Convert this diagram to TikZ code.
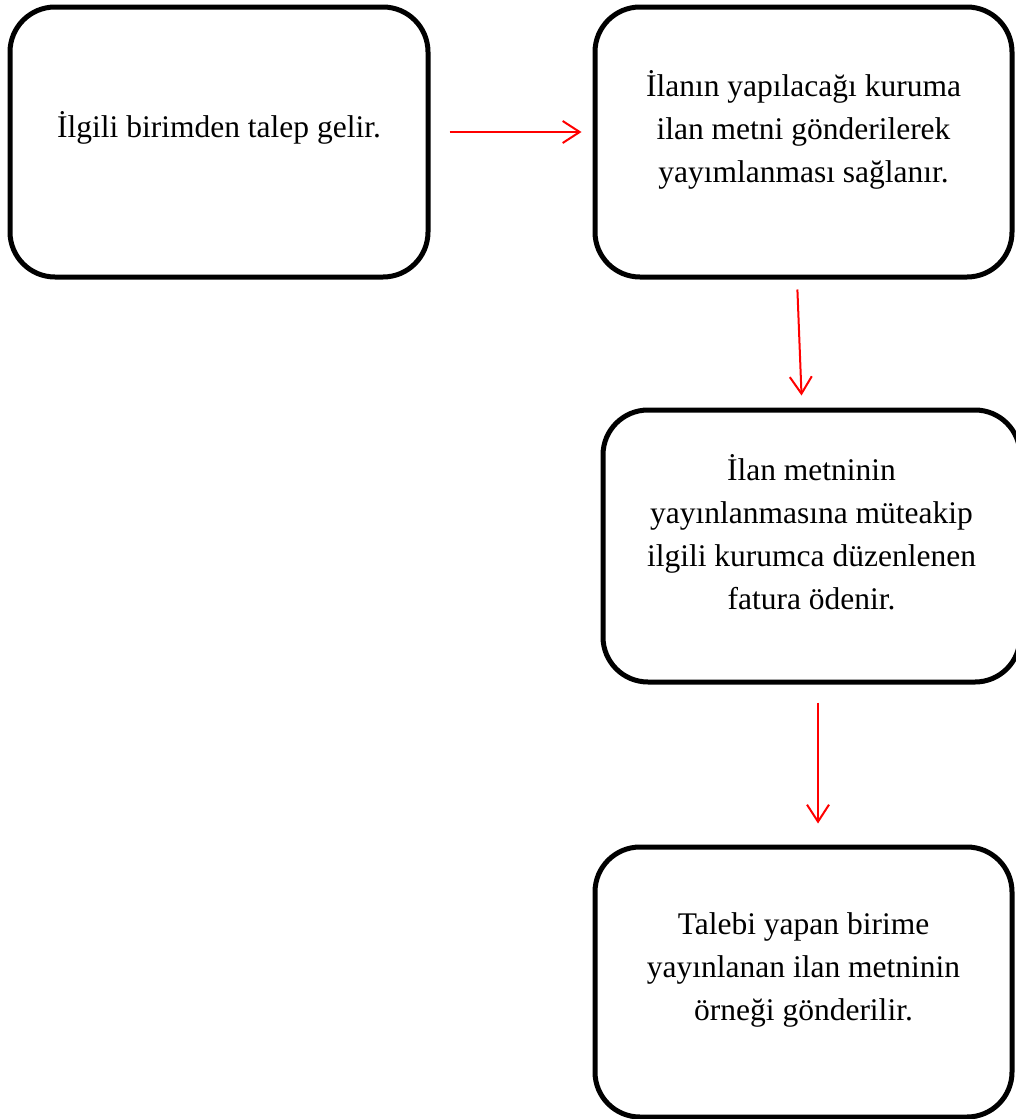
\documentclass[tikz,border=0pt]{standalone}
\usepackage{fontspec}
\setmainfont{Liberation Serif}
\usetikzlibrary{arrows.meta}
\begin{document}
\begin{tikzpicture}[x=1pt,y=-1pt,
  box/.style={draw=black, line width=5pt, rounded corners=45pt, minimum width=417pt, inner sep=0pt},
  txt/.style={align=center, font=\fontsize{31.5}{43}\selectfont, inner sep=0pt},
  conn/.style={draw=red, line width=2pt, -{Straight Barb[length=17pt,width=22pt,line width=2pt]}}
]
\useasboundingbox (0,0) rectangle (1016,1119);
\node[box, minimum width=418pt, minimum height=270pt] (b1) at (219,142) {};
\node[box, minimum height=270pt] (b2) at (803.5,142) {};
\node[box, minimum height=272pt] (b3) at (811.5,546) {};
\node[box, minimum height=270pt] (b4) at (803.5,982) {};
\node[txt] (t1) at ([yshift=14pt]b1.center) {İlgili birimden talep gelir.};
\node[txt] (t2) at ([yshift=12pt]b2.center) {İlanın yapılacağı kuruma\\ilan metni gönderilerek\\yayımlanması sağlanır.};
\node[txt] (t3) at ([yshift=14pt]b3.center) {İlan metninin\\yayınlanmasına müteakip\\ilgili kurumca düzenlenen\\fatura ödenir.};
\node[txt] (t4) at ([yshift=12pt]b4.center) {Talebi yapan birime\\yayınlanan ilan metninin\\örneği gönderilir.};
\draw[conn, shorten <=19pt, shorten >=11pt] ([yshift=10pt]b1.east) -- ([yshift=10pt]b2.west);
\draw[conn, shorten <=10pt, shorten >=12pt] ([xshift=-6.5pt]b2.south) -- ([xshift=-9.5pt]b3.north);
\draw[conn, shorten <=18pt, shorten >=21pt] ([xshift=6.5pt]b3.south) -- ([xshift=6.5pt]b3.south |- b4.north);
\end{tikzpicture}
\end{document}
